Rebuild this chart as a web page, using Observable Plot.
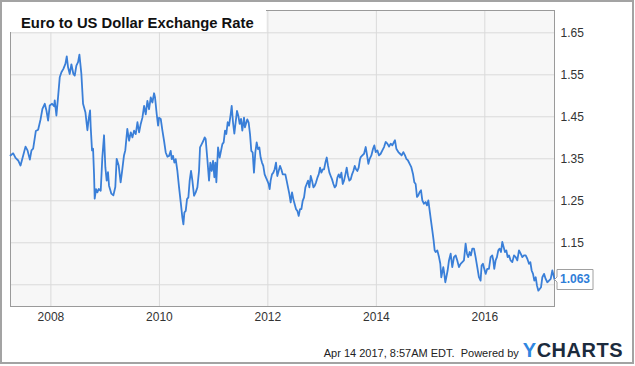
<!DOCTYPE html>
<html>
<head>
<meta charset="utf-8">
<script src="https://cdn.jsdelivr.net/npm/d3@7"></script>
<script src="https://cdn.jsdelivr.net/npm/@observablehq/plot@0.6"></script>
<style>
  html, body { margin: 0; padding: 0; background: #fff; }
  #wrap { position: relative; width: 635px; height: 366px; background: #fff; font-family: "Liberation Sans", Arial, sans-serif; overflow: hidden; }
  #chart { position: absolute; left: 0; top: 0; }
  #title { position: absolute; left: 10px; top: 10px; width: 256px; height: 22px; background: #fff; }
  #title span { position: absolute; left: 11px; top: 6px; line-height: 1; font-size: 14.8px; font-weight: bold; color: #111; white-space: nowrap; }
  #footer { position: absolute; right: 12px; top: 339px; display: flex; align-items: baseline; white-space: nowrap; }
  #footer .stamp { font-size: 11px; color: #222; }
  #footer .logo { font-size: 20px; font-weight: bold; letter-spacing: 0.5px; margin-left: 4px; color: #1c2b3d; }
  #footer .logo .y { color: #2f86e0; }
  #border { position: absolute; left: 0; top: 0; width: 630px; height: 360px; border: 2px solid #a3a3a3; pointer-events: none; }
</style>
</head>
<body>
<div id="wrap">
  <div id="chart"></div>
  <div id="title"><span></span></div>
  <div id="footer"><span class="stamp"></span><span class="logo"><span class="y">Y</span>CHARTS</span></div>
  <div id="border"></div>
</div>
<script>
const titleText = "Euro to US Dollar Exchange Rate";
const stampText = "Apr 14 2017, 8:57AM EDT.\u00a0 Powered by";

// decimal years of the weekly observations
const years = [
  2007.255,2007.305,2007.348,2007.397,2007.440,2007.489,2007.532,2007.569,2007.612,2007.642,
  2007.673,2007.722,2007.765,2007.808,2007.844,2007.887,2007.918,2007.949,2007.979,2008.022,
  2008.059,2008.071,2008.102,2008.132,2008.163,2008.194,2008.230,2008.267,2008.292,2008.316,
  2008.347,2008.377,2008.414,2008.439,2008.469,2008.500,2008.525,2008.561,2008.592,2008.635,
  2008.672,2008.696,2008.721,2008.733,2008.757,2008.776,2008.794,2008.806,2008.831,2008.855,
  2008.880,2008.917,2008.947,2008.978,2009.002,2009.027,2009.051,2009.070,2009.113,2009.150,
  2009.186,2009.211,2009.248,2009.284,2009.309,2009.346,2009.370,2009.407,
  2009.440,2009.471,2009.502,2009.532,2009.563,2009.594,2009.625,2009.655,2009.686,2009.717,
  2009.747,2009.778,2009.809,2009.840,2009.870,2009.901,2009.919,2009.950,2009.975,2009.993,
  2010.024,2010.055,2010.085,2010.116,2010.147,2010.178,2010.208,2010.227,2010.251,2010.276,
  2010.300,2010.331,2010.362,2010.393,2010.423,2010.442,2010.460,2010.485,2010.509,2010.534,
  2010.558,2010.583,2010.608,2010.638,2010.669,2010.700,2010.730,2010.749,2010.780,2010.810,
  2010.835,2010.853,2010.884,2010.915,2010.939,2010.964,2010.989,2011.013,2011.032,2011.050,
  2011.081,2011.111,2011.136,2011.161,2011.185,2011.210,2011.234,2011.259,2011.284,2011.314,
  2011.333,2011.357,2011.382,2011.406,2011.431,2011.456,2011.480,2011.505,2011.529,2011.560,
  2011.578,
  2011.621,2011.646,2011.671,2011.695,2011.720,2011.744,2011.769,2011.794,2011.818,2011.843,
  2011.867,2011.892,2011.916,2011.941,2011.966,2011.990,2012.015,2012.033,2012.051,2012.076,
  2012.101,2012.125,2012.150,2012.174,2012.199,2012.224,2012.248,2012.273,2012.297,2012.322,
  2012.346,2012.371,2012.396,2012.420,2012.445,2012.469,2012.494,2012.519,2012.543,2012.568,
  2012.592,2012.617,2012.641,2012.666,2012.691,2012.715,2012.740,2012.764,2012.789,2012.813,
  2012.838,2012.863,2012.887,2012.912,2012.936,2012.961,2012.985,2013.010,2013.035,2013.059,
  2013.084,2013.108,2013.133,2013.157,2013.182,2013.207,2013.231,2013.256,2013.280,2013.305,
  2013.329,2013.354,2013.379,2013.403,2013.428,2013.452,2013.477,2013.501,2013.526,2013.551,
  2013.575,2013.600,2013.624,2013.649,2013.673,2013.698,
  2013.711,2013.741,2013.772,2013.803,2013.833,2013.852,2013.876,2013.907,2013.938,2013.962,
  2013.987,2014.018,2014.048,2014.079,2014.110,2014.141,2014.171,2014.202,2014.233,2014.264,
  2014.294,2014.325,2014.343,2014.368,2014.405,2014.436,2014.466,2014.497,2014.528,2014.552,
  2014.583,2014.614,2014.644,2014.675,2014.700,2014.724,2014.749,2014.773,2014.798,2014.823,
  2014.847,2014.878,2014.909,2014.933,2014.958,2014.982,2015.007,2015.032,2015.056,2015.075,
  2015.093,2015.124,2015.155,2015.179,2015.197,2015.216,2015.234,2015.253,2015.271,2015.290,
  2015.314,2015.339,2015.370,2015.400,2015.431,2015.462,2015.492,2015.523,2015.554,2015.585,
  2015.615,2015.646,2015.671,2015.695,2015.720,2015.744,2015.769,2015.800,2015.830,2015.861,
  2015.892,2015.922,2015.941,2015.965,2015.990,2016.015,2016.045,2016.076,2016.107,2016.137,
  2016.156,2016.174,2016.199,2016.223,2016.248,2016.273,2016.297,2016.322,2016.346,2016.371,
  2016.396,2016.420,2016.445,2016.475,2016.506,2016.537,2016.568,2016.598,2016.629,2016.660,
  2016.690,2016.721,2016.752,2016.782,2016.813,2016.838,2016.862,2016.887,2016.911,2016.936,
  2016.960,2016.985,2017.010,2017.034,2017.059,2017.090,2017.120,2017.151,2017.182,2017.213,
  2017.231,2017.243,2017.283
];

// EUR/USD rate at each observation
const rates = [
  1.358,1.363,1.352,1.346,1.334,1.358,1.379,1.370,1.348,1.370,
  1.374,1.416,1.419,1.443,1.469,1.481,1.465,1.441,1.477,1.481,
  1.475,1.489,1.453,1.497,1.544,1.556,1.564,1.576,1.594,1.568,
  1.552,1.575,1.552,1.548,1.572,1.580,1.598,1.552,1.481,1.461,
  1.418,1.445,1.465,1.425,1.370,1.374,1.314,1.255,1.278,1.270,
  1.278,1.274,1.354,1.406,1.330,1.298,1.318,1.286,1.267,1.263,
  1.283,1.350,1.334,1.294,1.318,1.358,1.370,1.421,
  1.393,1.413,1.401,1.417,1.409,1.437,1.413,1.433,1.448,1.476,
  1.456,1.488,1.468,1.496,1.484,1.506,1.496,1.456,1.429,1.448,
  1.445,1.417,1.393,1.365,1.355,1.357,1.369,1.349,1.357,1.341,
  1.349,1.321,1.282,1.246,1.210,1.194,1.222,1.226,1.254,1.258,
  1.298,1.321,1.298,1.262,1.270,1.282,1.321,1.377,1.385,1.393,
  1.401,1.397,1.349,1.298,1.341,1.321,1.345,1.306,1.341,1.294,
  1.377,1.353,1.369,1.385,1.389,1.417,1.409,1.437,1.429,1.456,
  1.476,1.437,1.410,1.437,1.464,1.452,1.433,1.445,1.417,1.448,
  1.425,
  1.444,1.436,1.409,1.369,1.365,1.317,1.365,1.389,1.373,1.377,
  1.353,1.341,1.333,1.313,1.305,1.298,1.290,1.278,1.298,1.313,
  1.317,1.325,1.341,1.309,1.321,1.333,1.325,1.313,1.313,1.313,
  1.298,1.282,1.266,1.246,1.270,1.254,1.242,1.230,1.226,1.214,
  1.230,1.230,1.250,1.258,1.282,1.290,1.298,1.282,1.309,1.298,
  1.282,1.286,1.294,1.305,1.313,1.329,1.317,1.325,1.325,1.341,
  1.353,1.333,1.317,1.309,1.301,1.290,1.282,1.286,1.305,1.313,
  1.305,1.317,1.290,1.298,1.313,1.329,1.309,1.298,1.301,1.313,
  1.321,1.333,1.325,1.321,1.329,1.349,
  1.354,1.358,1.362,1.378,1.354,1.338,1.350,1.358,1.374,1.382,
  1.366,1.370,1.358,1.362,1.370,1.378,1.390,1.386,1.379,1.386,
  1.382,1.390,1.394,1.374,1.366,1.362,1.358,1.366,1.358,1.350,
  1.346,1.338,1.330,1.314,1.294,1.290,1.259,1.263,1.271,1.275,
  1.251,1.243,1.247,1.239,1.251,1.227,1.203,1.179,1.155,1.132,
  1.128,1.132,1.116,1.100,1.068,1.080,1.092,1.076,1.056,1.068,
  1.084,1.108,1.124,1.092,1.116,1.120,1.108,1.092,1.100,1.104,
  1.108,1.148,1.124,1.116,1.128,1.120,1.136,1.136,1.116,1.092,
  1.068,1.060,1.096,1.100,1.088,1.076,1.088,1.088,1.116,1.120,
  1.108,1.088,1.108,1.116,1.132,1.136,1.128,1.152,1.140,1.128,
  1.132,1.116,1.120,1.108,1.104,1.120,1.116,1.108,1.132,1.124,
  1.116,1.120,1.120,1.112,1.100,1.104,1.084,1.076,1.060,1.068,
  1.048,1.036,1.040,1.044,1.068,1.076,1.064,1.056,1.060,1.064,
  1.076,1.084,1.063
];

const xTickYears = [2008, 2010, 2012, 2014, 2016];
const yGridValues = [1.05, 1.15, 1.25, 1.35, 1.45, 1.55, 1.65];
const yLabelValues = [1.15, 1.25, 1.35, 1.45, 1.55, 1.65];
const xDomainYears = [2007.255, 2017.283];
const yDomain = [0.9983, 1.7031];

function toDate(t) {
  const y = Math.floor(t);
  const s = Date.UTC(y, 0, 1), e = Date.UTC(y + 1, 0, 1);
  return new Date(s + (t - y) * (e - s));
}

const data = years.map((t, i) => ({date: toDate(t), rate: rates[i]}));
const last = data[data.length - 1];
const xTicks = xTickYears.map(y => new Date(Date.UTC(y, 0, 1)));

document.querySelector("#title span").textContent = titleText;
document.querySelector("#footer .stamp").textContent = stampText;

const chart = Plot.plot({
  width: 635,
  height: 330,
  marginLeft: 10,
  marginRight: 81,
  marginTop: 10,
  marginBottom: 24,
  style: {fontFamily: "'Liberation Sans', Arial, sans-serif", fontSize: "12px", color: "#333", background: "transparent", overflow: "visible"},
  x: {type: "utc", domain: xDomainYears.map(toDate), label: null},
  y: {domain: yDomain, label: null},
  marks: [
    Plot.frame({fill: "#f7f7f7", stroke: "none"}),
    Plot.gridY(yGridValues, {stroke: "#dadada", strokeOpacity: 1}),
    Plot.gridX(xTicks, {stroke: "#dadada", strokeOpacity: 1}),
    Plot.frame({stroke: "#9a9a9a"}),
    Plot.line(data, {x: "date", y: "rate", stroke: "#3a7fd8", strokeWidth: 1.8}),
    Plot.axisY(yLabelValues, {anchor: "right", tickSize: 0, tickPadding: 6, tickFormat: d3.format(".2f"), fontSize: 12, label: null}),
    Plot.axisX(xTicks, {tickSize: 0, tickPadding: 6, tickFormat: d3.utcFormat("%Y"), fontSize: 12, label: null}),
    Plot.tip([last], {
      x: "date", y: "rate",
      title: d => d3.format(".3f")(d.rate),
      anchor: "left", pointerSize: 5, textPadding: 3,
      fill: "white", stroke: "#a0a0a0", pathFilter: "none",
      fontSize: 12, fontWeight: "bold"
    })
  ]
});
document.getElementById("chart").appendChild(chart);

function colorTip() {
  chart.querySelectorAll('g[aria-label="tip"] text').forEach(t => t.setAttribute("fill", "#2f7ed8"));
}
colorTip();
requestAnimationFrame(() => { colorTip(); requestAnimationFrame(colorTip); });
</script>
</body>
</html>
